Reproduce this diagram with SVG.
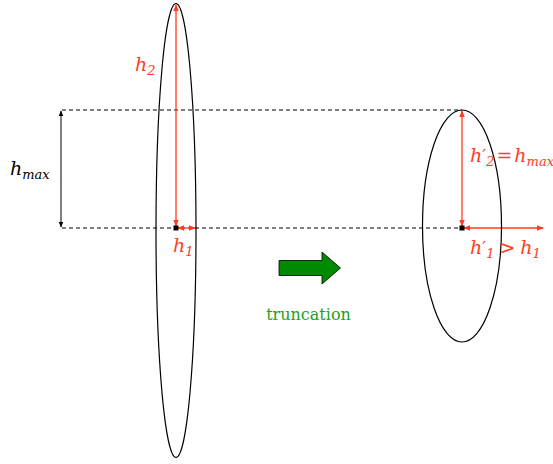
<svg xmlns="http://www.w3.org/2000/svg" width="553" height="464" viewBox="0 0 553 464">
<style>
.ell{fill:none;stroke:#000;stroke-width:1.2}
.dash{stroke:#000;stroke-width:1;stroke-dasharray:4,3;fill:none}
.red{stroke:#ff3c1e;stroke-width:1.3;fill:none}
.blk{stroke:#000;stroke-width:1;fill:none}
.lab{font-family:"DejaVu Serif",serif;font-style:italic;font-size:19px;fill:#ff3c1e}
.labk{font-family:"DejaVu Serif",serif;font-style:italic;font-size:19px;fill:#000}
.sub{font-size:13px}
.pr{font-size:17px;font-style:normal}
.up{font-style:normal}
.tr{font-family:"DejaVu Serif",serif;font-size:16px;fill:#22a022}
</style>
<defs>
<marker id="ar" viewBox="0 0 10 10" refX="9" refY="5" markerWidth="7" markerHeight="7" orient="auto-start-reverse" markerUnits="userSpaceOnUse"><path d="M0,1 L10,5 L0,9 Z" fill="#ff3c1e"/></marker>
<marker id="ak" viewBox="0 0 10 10" refX="9" refY="5" markerWidth="6" markerHeight="6" orient="auto-start-reverse" markerUnits="userSpaceOnUse"><path d="M0,1 L10,5 L0,9 Z" fill="#000"/></marker>
</defs>
<g id="connectors">
<line class="dash" x1="62" y1="110" x2="462" y2="110"/>
<line class="dash" x1="62" y1="228" x2="462" y2="228"/>
<line class="blk" x1="61" y1="111" x2="61" y2="227" marker-start="url(#ak)" marker-end="url(#ak)"/>
<line class="red" x1="176" y1="226" x2="176" y2="5" marker-start="url(#ar)" marker-end="url(#ar)"/>
<line class="red" x1="178" y1="228" x2="195" y2="228" marker-start="url(#ar)" marker-end="url(#ar)"/>
<line class="red" x1="462" y1="226" x2="462" y2="111" marker-start="url(#ar)" marker-end="url(#ar)"/>
<line class="red" x1="464" y1="228" x2="543" y2="228" marker-start="url(#ar)" marker-end="url(#ar)"/>
</g>
<g id="left-ellipse">
<ellipse class="ell" cx="176" cy="230.5" rx="20" ry="227"/>
<rect x="173.5" y="225.5" width="5" height="5" fill="#000"/>
<text class="lab" x="135" y="71">h<tspan class="sub" dy="4">2</tspan></text>
<text class="lab" x="173" y="252">h<tspan class="sub" dy="4">1</tspan></text>
</g>
<g id="hmax">
<text class="labk" x="10" y="175">h<tspan class="sub" dy="4">max</tspan></text>
</g>
<g id="right-ellipse">
<ellipse class="ell" cx="462" cy="226" rx="39.5" ry="116"/>
<rect x="459.5" y="225.5" width="5" height="5" fill="#000"/>
<text class="lab" x="470" y="162">h<tspan class="pr" dy="-1">′</tspan><tspan class="sub" dy="5">2</tspan><tspan class="up" dx="2" dy="-4">=</tspan><tspan dx="2">h</tspan><tspan class="sub" dy="4">max</tspan></text>
<text class="lab" x="470" y="254">h<tspan class="pr" dy="-1">′</tspan><tspan class="sub" dy="5">1</tspan><tspan class="up" dx="5" dy="-4">&gt;</tspan><tspan dx="5">h</tspan><tspan class="sub" dy="4">1</tspan></text>
</g>
<g id="truncation-arrow">
<path d="M279,260.5 L322,260.5 L322,252 L340.5,268 L322,284 L322,275.5 L279,275.5 Z" fill="#008a00" stroke="#000" stroke-width="0.8"/>
<text class="tr" x="308.5" y="320" text-anchor="middle">truncation</text>
</g>
</svg>
